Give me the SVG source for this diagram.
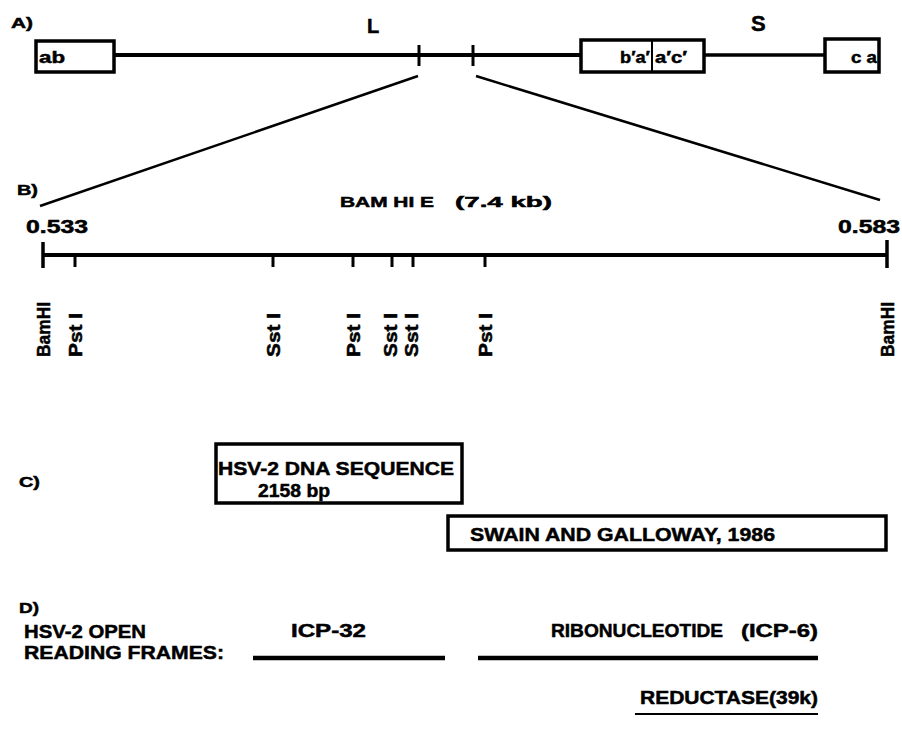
<svg xmlns="http://www.w3.org/2000/svg" width="902" height="736" viewBox="0 0 902 736">
<style>
text{font-family:"Liberation Sans",Arial,sans-serif;font-weight:bold;fill:#000;stroke:#000;stroke-width:0.5}
.t14{font-size:15px}
.t16{font-size:17px}
.t18{font-size:19px}
.t17{font-size:18px}
.ln{stroke:#000;fill:none}
.box{fill:#fff;stroke:#000;stroke-width:3.5}
.rl{font-size:18px}
</style>
<rect width="902" height="736" fill="#fff"/>

<!-- Section A -->
<g id="sectionA">
<text x="11" y="28" class="t14" textLength="22" lengthAdjust="spacingAndGlyphs">A)</text>
<text x="367" y="33" style="font-size:20px">L</text>
<text x="751" y="31" style="font-size:22px">S</text>
<line class="ln" x1="114" y1="55" x2="580" y2="55" stroke-width="4"/>
<line class="ln" x1="705" y1="55" x2="824" y2="55" stroke-width="3.5"/>
<line class="ln" x1="419" y1="45" x2="419" y2="66" stroke-width="3"/>
<line class="ln" x1="473" y1="45" x2="473" y2="66" stroke-width="3"/>
</g>
<g id="box-ab">
<rect class="box" x="36" y="41" width="78" height="31"/>
<text x="39" y="63" class="t16" textLength="26" lengthAdjust="spacingAndGlyphs">ab</text>
</g>
<g id="box-bac">
<rect class="box" x="581" y="40" width="123" height="32"/>
<line class="ln" x1="652" y1="40" x2="652" y2="72" stroke-width="2"/>
<text x="620" y="63" class="t16" textLength="30" lengthAdjust="spacingAndGlyphs">b′a′</text>
<text x="655" y="63" class="t16" textLength="32" lengthAdjust="spacingAndGlyphs">a′c′</text>
</g>
<g id="box-ca">
<rect class="box" x="825" y="39" width="54" height="33"/>
<text x="851" y="63" class="t16" textLength="26" lengthAdjust="spacingAndGlyphs">c a</text>
</g>

<!-- Expansion lines -->
<g id="connectors">
<line class="ln" x1="418" y1="76" x2="40" y2="206" stroke-width="2.5"/>
<line class="ln" x1="476" y1="76" x2="880" y2="200" stroke-width="2.5"/>
</g>

<!-- Section B -->
<g id="sectionB">
<text x="17" y="195" class="t14" textLength="21" lengthAdjust="spacingAndGlyphs">B)</text>
<text x="340" y="207" class="t14" textLength="94" lengthAdjust="spacingAndGlyphs">BAM HI E</text>
<text x="455" y="207" class="t14" textLength="97" lengthAdjust="spacingAndGlyphs">(7.4 kb)</text>
<text x="26" y="233" class="t17" textLength="62" lengthAdjust="spacingAndGlyphs">0.533</text>
<text x="838" y="233" class="t17" textLength="62" lengthAdjust="spacingAndGlyphs">0.583</text>
<line class="ln" x1="43" y1="255" x2="887" y2="255" stroke-width="4"/>
<line class="ln" x1="43" y1="242" x2="43" y2="268" stroke-width="3.5"/>
<line class="ln" x1="887" y1="240" x2="887" y2="268" stroke-width="3.5"/>
<g class="ln" stroke-width="3">
<line x1="75" y1="255" x2="75" y2="267"/>
<line x1="273" y1="255" x2="273" y2="267"/>
<line x1="353" y1="255" x2="353" y2="267"/>
<line x1="392" y1="255" x2="392" y2="267"/>
<line x1="413" y1="255" x2="413" y2="267"/>
<line x1="485" y1="255" x2="485" y2="267"/>
</g>
<text class="rl" transform="translate(50,357) rotate(-90)" textLength="55" lengthAdjust="spacingAndGlyphs">BamHI</text>
<text class="rl" transform="translate(82,357) rotate(-90)" textLength="44" lengthAdjust="spacingAndGlyphs">Pst I</text>
<text class="rl" transform="translate(280,357) rotate(-90)" textLength="44" lengthAdjust="spacingAndGlyphs">Sst I</text>
<text class="rl" transform="translate(360,357) rotate(-90)" textLength="44" lengthAdjust="spacingAndGlyphs">Pst I</text>
<text class="rl" transform="translate(397,357) rotate(-90)" textLength="44" lengthAdjust="spacingAndGlyphs">Sst I</text>
<text class="rl" transform="translate(418,357) rotate(-90)" textLength="44" lengthAdjust="spacingAndGlyphs">Sst I</text>
<text class="rl" transform="translate(492,357) rotate(-90)" textLength="44" lengthAdjust="spacingAndGlyphs">Pst I</text>
<text class="rl" transform="translate(894,357) rotate(-90)" textLength="55" lengthAdjust="spacingAndGlyphs">BamHI</text>
</g>

<!-- Section C -->
<g id="labelC">
<text x="19" y="487" class="t14" textLength="21" lengthAdjust="spacingAndGlyphs">C)</text>
</g>
<g id="box-hsv2">
<rect class="box" x="216" y="444" width="246" height="59"/>
<text x="218" y="475" class="t18" textLength="236" lengthAdjust="spacingAndGlyphs">HSV-2 DNA SEQUENCE</text>
<text x="258" y="497" class="t18" textLength="72" lengthAdjust="spacingAndGlyphs">2158 bp</text>
</g>
<g id="box-swain">
<rect class="box" x="448" y="516" width="438" height="34"/>
<text x="470" y="541" class="t18" textLength="305" lengthAdjust="spacingAndGlyphs">SWAIN AND GALLOWAY, 1986</text>
</g>

<!-- Section D -->
<g id="sectionD">
<text x="19" y="613" class="t14" textLength="20" lengthAdjust="spacingAndGlyphs">D)</text>
<text x="24" y="638" class="t18" textLength="122" lengthAdjust="spacingAndGlyphs">HSV-2 OPEN</text>
<text x="24" y="659" class="t18" textLength="200" lengthAdjust="spacingAndGlyphs">READING FRAMES:</text>
</g>
<g id="orf-icp32">
<text x="291" y="637" class="t18" textLength="75" lengthAdjust="spacingAndGlyphs">ICP-32</text>
<line class="ln" x1="253" y1="658" x2="445" y2="658" stroke-width="4.5"/>
</g>
<g id="orf-icp6">
<text x="551" y="637" class="t18" textLength="172" lengthAdjust="spacingAndGlyphs">RIBONUCLEOTIDE</text>
<text x="741" y="637" class="t18" textLength="77" lengthAdjust="spacingAndGlyphs">(ICP-6)</text>
<line class="ln" x1="478" y1="658" x2="818" y2="658" stroke-width="4.5"/>
</g>
<g id="orf-39k">
<text x="640" y="704" class="t18" textLength="178" lengthAdjust="spacingAndGlyphs">REDUCTASE(39k)</text>
<line class="ln" x1="635" y1="714" x2="818" y2="714" stroke-width="2"/>
</g>
</svg>
